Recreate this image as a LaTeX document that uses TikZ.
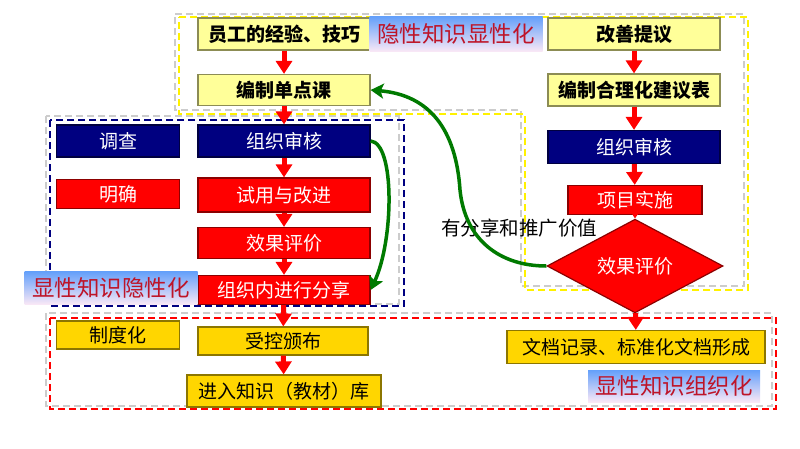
\documentclass[tikz,border=0pt]{standalone}
\usepackage{fontspec}
\newfontfamily\cjk{Noto Sans CJK SC}
\usetikzlibrary{arrows.meta,shapes.geometric}
\definecolor{navybox}{RGB}{0,0,128}
\definecolor{redbox}{RGB}{255,0,0}
\definecolor{paleyel}{RGB}{255,255,153}
\definecolor{goldbox}{RGB}{255,214,0}
\definecolor{tagred}{RGB}{190,20,40}
\definecolor{tagblue}{RGB}{100,160,250}
\definecolor{tagpink}{RGB}{250,232,246}
\definecolor{flowgreen}{RGB}{0,122,0}
\tikzset{
  box/.style={rectangle, inner sep=0pt, line width=1.2pt, font=\cjk\fontsize{19}{21}\selectfont},
  ybox/.style={box, fill=paleyel, draw=paleyel!55!black, text=black, font=\cjk\bfseries\fontsize{19}{21}\selectfont},
  nbox/.style={box, fill=navybox, draw=navybox!50!black, text=white},
  rbox/.style={box, fill=redbox, draw=redbox!55!black, text=white},
  gbox/.style={box, fill=goldbox, draw=goldbox!55!black, text=black},
  tag/.style={rectangle, inner sep=0pt, top color=tagblue, bottom color=tagpink, text=tagred, font=\cjk\fontsize{22.5}{24}\selectfont},
  flow/.style={-{Triangle[length=13pt,width=16pt]}, draw=red, line width=5pt},
  loop/.style={-{Stealth[length=13pt,width=15pt,inset=3pt]}, draw=flowgreen, line width=3.5pt},
  frame/.style={line width=1.6pt, dash pattern=on 7pt off 4pt},
  grayframe/.style={frame, draw=gray!40},
  >=Stealth
}

\begin{document}
\begin{tikzpicture}[x=1pt, y=-1pt]
  \useasboundingbox (0,0) rectangle (800,448);
  % frames
  \draw[grayframe] (175,14) -- (744,14) -- (744,286) -- (521,286) -- (521,110) -- (175,110) -- cycle;
  \draw[frame, yellow] (179,17) -- (748,17) -- (748,290) -- (525,290) -- (525,114) -- (179,114) -- cycle;
  \draw[grayframe] (46,116) rectangle (399,304);
  \draw[frame, navybox] (50,120) rectangle (404,306);
  \draw[grayframe] (46,313) rectangle (772,406);
  \draw[frame, red] (50,318) rectangle (776,409);

  \node[ybox, minimum width=172pt, minimum height=32pt] (exp) at (284,34) {员工的经验、技巧};
  \node[tag, minimum width=173pt, minimum height=35pt] (tagA) at (456,34) {隐性知识显性化};
  \node[ybox, minimum width=172pt, minimum height=32pt] (prop) at (634,34) {改善提议};
  \node[ybox, minimum width=172pt, minimum height=31pt] (opl) at (284,90) {编制单点课};
  \node[ybox, minimum width=172pt, minimum height=32pt] (form) at (634,90) {编制合理化建议表};

  \node[nbox, minimum width=123pt, minimum height=32pt] (survey) at (118,141) {调查};
  \node[nbox, minimum width=172pt, minimum height=32pt] (revL) at (284,141) {组织审核};
  \node[rbox, minimum width=123pt, minimum height=29pt] (clarify) at (118,194) {明确};
  \node[rbox, minimum width=172pt, minimum height=34pt] (trial) at (284,195) {试用与改进};
  \node[rbox, minimum width=172pt, minimum height=31pt] (evalL) at (284,243) {效果评价};
  \node[rbox, minimum width=172pt, minimum height=29pt] (share) at (284,290) {组织内进行分享};
  \node[tag, minimum width=173pt, minimum height=33pt] (tagB) at (111,288) {显性知识隐性化};

  \node[gbox, minimum width=123pt, minimum height=28pt] (inst) at (118,335) {制度化};
  \node[gbox, minimum width=170pt, minimum height=28pt] (issue) at (283,341) {受控颁布};
  \node[gbox, minimum width=194pt, minimum height=32pt] (lib) at (284,391) {进入知识（教材）库};

  \node[nbox, minimum width=172pt, minimum height=33pt] (revR) at (634,147) {组织审核};
  \node[rbox, minimum width=134pt, minimum height=29pt] (impl) at (635,200) {项目实施};
  \node[diamond, inner sep=0pt, fill=redbox, draw=redbox!55!black, line width=1.2pt, text=white,
        font=\cjk\fontsize{19}{21}\selectfont, minimum width=176pt, minimum height=48pt] (evalR) at (635,266) {效果评价};
  \node[font=\cjk\fontsize{19.5}{21}\selectfont] (note) at (519,228) {有分享和推广价值};
  \node[gbox, minimum width=258pt, minimum height=33pt] (doc) at (636,347) {文档记录、标准化文档形成};
  \node[tag, minimum width=172pt, minimum height=32pt] (tagC) at (674,386) {显性知识组织化};

  % main flow
  \draw[flow] (exp) -- (opl);
  \draw[flow] (opl) -- (revL);
  \draw[flow] (revL) -- (trial);
  \draw[flow] (trial) -- (evalL);
  \draw[flow] (evalL) -- (share);
  \draw[flow] (share) -- (issue);
  \draw[flow] (issue) -- (lib);
  \draw[flow] (prop) -- (form);
  \draw[flow] (form) -- (revR);
  \draw[flow] (revR) -- (impl);
  \draw[flow] (impl) -- (evalR);
  \draw[flow] (evalR) -- (doc);
  % feedback
  \draw[loop] (evalR.west) .. controls (500,266) and (465,240) .. (460,190)
                           .. controls (456,130) and (430,95) .. (opl.east);
  \draw[loop] (revL.east) .. controls (395,143) and (394,240) .. (share.east);
\end{tikzpicture}
\end{document}
